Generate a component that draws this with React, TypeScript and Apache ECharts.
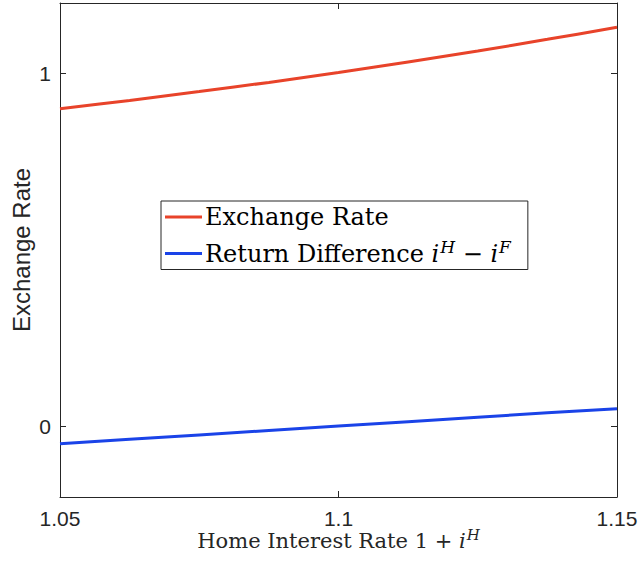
import React, { useEffect, useRef } from "react";
import * as echarts from "echarts";

const homeRates = [1.05, 1.0625, 1.075, 1.0875, 1.1, 1.1125, 1.125, 1.1375, 1.15];
const exchangeRate = [0.9, 0.924, 0.949, 0.975, 1.003, 1.033, 1.064, 1.097, 1.131];
const returnDiff = [-0.049, -0.0365, -0.024, -0.0115, 0.001, 0.0135, 0.026, 0.0385, 0.05];
const xTicks = [1.05, 1.1, 1.15];
const yTicks = [0, 1];
const seriesNames = ["Exchange Rate", "Return Difference"];

const AXIS = "#262626";
const SERIF = "'DejaVu Serif', 'Liberation Serif', serif";
const SANS = "'Liberation Sans', Arial, Helvetica, sans-serif";

export default function App() {
  const ref = useRef<HTMLDivElement>(null);
  useEffect(() => {
    if (!ref.current) return;
    const chart = echarts.init(ref.current, undefined, { renderer: "svg" });
    const tickInside = (vals: number[]) => ({
      show: true,
      inside: true,
      length: 6,
      customValues: vals,
      lineStyle: { color: AXIS, width: 1 },
    });
    const fmtX = (v: number) => String(+Number(v).toFixed(2));
    const legendRich = {
      n: { fontFamily: SERIF, fontSize: 24, color: "#000" },
      i: { fontFamily: SERIF, fontSize: 24, fontStyle: "italic", color: "#000" },
      s: { fontFamily: SERIF, fontSize: 17, fontStyle: "italic", color: "#000", padding: [0, 0, 14, 1] },
    };
    const nameRich = {
      n: { fontFamily: SERIF, fontSize: 21, color: AXIS, lineHeight: 28 },
      i: { fontFamily: SERIF, fontSize: 21, fontStyle: "italic", color: AXIS, lineHeight: 28 },
      s: { fontFamily: SERIF, fontSize: 15, fontStyle: "italic", color: AXIS, lineHeight: 28, padding: [0, 0, 13, 1] },
    };
    chart.setOption({
      animation: false,
      backgroundColor: "#fff",
      grid: { left: 60, right: 24, top: 3, bottom: 64, containLabel: false, outerBoundsMode: "none" },
      legend: {
        orient: "vertical",
        left: 161,
        top: 201,
        padding: [4, 17, 4, 4],
        itemGap: 9,
        itemWidth: 37,
        itemHeight: 3,
        icon: "rect",
        backgroundColor: "#fff",
        borderColor: AXIS,
        borderWidth: 1,
        selectedMode: false,
        data: seriesNames,
        formatter: (name: string) =>
          name === seriesNames[0]
            ? "{n|Exchange Rate}"
            : "{n|Return Difference }{i|i}{s|H}{n| − }{i|i}{s|F}",
        textStyle: { rich: legendRich, padding: [0, 0, 0, -2] },
      },
      xAxis: [
        {
          type: "value",
          position: "bottom",
          min: 1.05,
          max: 1.15,
          axisLine: { show: true, onZero: false, lineStyle: { color: AXIS, width: 1 } },
          axisTick: tickInside(xTicks),
          axisLabel: {
            customValues: xTicks,
            formatter: fmtX,
            fontFamily: SANS,
            fontSize: 21,
            color: AXIS,
            margin: 11,
          },
          splitLine: { show: false },
          name: "{n|Home Interest Rate 1 + }{i|i}{s|H}",
          nameLocation: "middle",
          nameGap: 30,
          nameMoveOverlap: false,
          nameTextStyle: { rich: nameRich },
        },
        {
          type: "value",
          position: "top",
          min: 1.05,
          max: 1.15,
          axisLine: { show: true, onZero: false, lineStyle: { color: AXIS, width: 1 } },
          axisTick: tickInside(xTicks),
          axisLabel: { show: false },
          splitLine: { show: false },
        },
      ],
      yAxis: [
        {
          type: "value",
          position: "left",
          min: -0.2,
          max: 1.2,
          axisLine: { show: true, onZero: false, lineStyle: { color: AXIS, width: 1 } },
          axisTick: tickInside(yTicks),
          axisLabel: {
            customValues: yTicks,
            fontFamily: SANS,
            fontSize: 21,
            color: AXIS,
            margin: 9,
          },
          splitLine: { show: false },
          name: "Exchange Rate",
          nameLocation: "middle",
          nameGap: 27,
          nameMoveOverlap: false,
          nameTextStyle: { fontFamily: SANS, fontSize: 24, color: AXIS },
        },
        {
          type: "value",
          position: "right",
          min: -0.2,
          max: 1.2,
          axisLine: { show: true, onZero: false, lineStyle: { color: AXIS, width: 1 } },
          axisTick: tickInside(yTicks),
          axisLabel: { show: false },
          splitLine: { show: false },
        },
      ],
      series: [
        {
          name: seriesNames[0],
          type: "line",
          xAxisIndex: 0,
          yAxisIndex: 0,
          showSymbol: false,
          smooth: 0.3,
          data: homeRates.map((x, k) => [x, exchangeRate[k]]),
          lineStyle: { color: "#e8432a", width: 3 },
          itemStyle: { color: "#e8432a" },
        },
        {
          name: seriesNames[1],
          type: "line",
          xAxisIndex: 0,
          yAxisIndex: 0,
          showSymbol: false,
          data: homeRates.map((x, k) => [x, returnDiff[k]]),
          lineStyle: { color: "#1a43e8", width: 3 },
          itemStyle: { color: "#1a43e8" },
        },
      ],
    });
    return () => chart.dispose();
  }, []);
  return (
    <div
      ref={ref}
      style={{ position: "fixed", left: 0, top: 0, width: 641, height: 561, background: "#fff" }}
    />
  );
}
